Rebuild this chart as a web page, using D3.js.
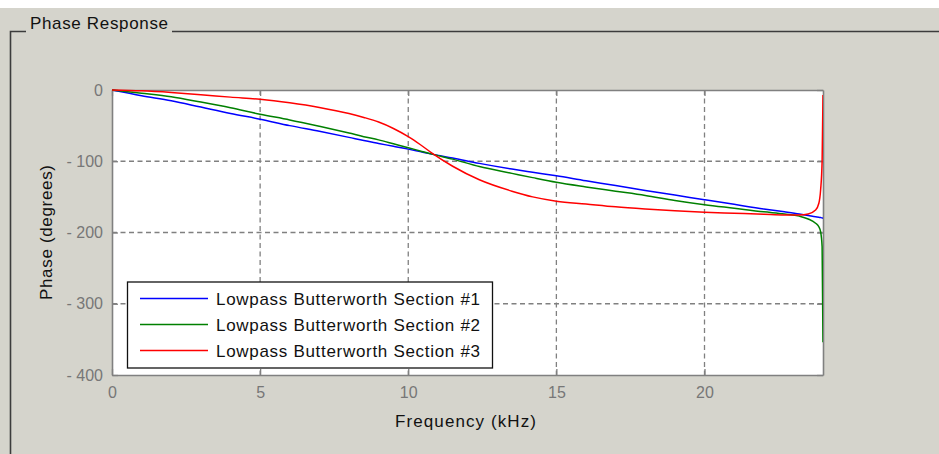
<!DOCTYPE html>
<html>
<head>
<meta charset="utf-8">
<script src="https://cdn.jsdelivr.net/npm/d3@7/dist/d3.min.js"></script>
<style>
html,body{margin:0;padding:0;background:#d5d4cc;}
svg{display:block;font-family:"Liberation Sans",Arial,Helvetica,sans-serif;}
</style>
</head>
<body>
<svg id="chart" width="939" height="454"></svg>
<script>
// ---- data ----
const freqKHz = [0, 1, 2, 3, 4, 5, 6, 7, 8, 8.5, 9, 9.5, 10, 10.4, 10.8, 11.5, 12.4, 13.5, 14.2, 15, 16, 17, 18, 19, 20, 21, 22, 22.7, 23.2, 23.5, 23.75, 23.86, 23.92, 23.97, 24];
const section1 = [0, -8, -15, -24, -33, -41, -50, -58, -66.5, -71, -75, -79, -83, -86.5, -90, -95.5, -103, -111, -115.5, -120.5, -127.5, -134, -141, -147.5, -154, -160.5, -167, -171, -174, -176, -178, -178.5, -179, -179.5, -180];
const section2 = [0, -4.5, -9.5, -17, -25, -34, -42, -51, -60.5, -65.5, -70, -75.5, -81, -85.5, -90, -97, -107.5, -117, -123, -129.5, -136, -142, -148, -155, -161, -166, -171, -174, -177, -181, -187, -192, -199, -220, -354];
const section3 = [0, -1.2, -3.5, -6.5, -10, -13, -18, -24.5, -33, -38.5, -45, -54, -65.5, -76.5, -88.5, -107, -126, -142, -150, -156, -160, -164, -167, -169.5, -171.5, -173, -174.5, -175.5, -175.5, -174, -168.5, -159, -140, -100, -7];
const seriesNames = ["Lowpass Butterworth Section #1", "Lowpass Butterworth Section #2", "Lowpass Butterworth Section #3"];
const seriesColors = ["#0000ff", "#008000", "#ff0000"];
const xTicks = [0, 5, 10, 15, 20];
const yTicks = [0, -100, -200, -300, -400];
const panelTitle = "Phase Response";
const xLabel = "Frequency (kHz)";
const yLabel = "Phase (degrees)";

const svg = d3.select("#chart");
const W = 939, H = 454;

// background: white strip on top, grey panel
svg.append("rect").attr("x",0).attr("y",0).attr("width",W).attr("height",8).attr("fill","#ffffff");
svg.append("rect").attr("x",0).attr("y",8).attr("width",W).attr("height",H-8).attr("fill","#d5d4cc");

// panel frame
const frame = svg.append("g").attr("stroke","#3c3c3c").attr("stroke-width",1.6).attr("fill","none");
frame.append("path").attr("d",`M10.5,${H} L10.5,31.5 L26,31.5`);
frame.append("path").attr("d",`M172,31.5 L${W},31.5`);
svg.append("text").attr("x",30).attr("y",29).attr("font-size",17).attr("fill","#111")
  .attr("textLength",138).attr("lengthAdjust","spacing")
  .text(panelTitle);

// plot geometry
const L = 112, R = 823, T = 90, B = 375;
const x = d3.scaleLinear().domain([0,24]).range([L,R]);
const y = d3.scaleLinear().domain([-400,0]).range([B,T]);

svg.append("rect").attr("x",L).attr("y",T).attr("width",R-L).attr("height",B-T).attr("fill","#ffffff");

// grid
const grid = svg.append("g").attr("stroke","#808080").attr("stroke-width",1.3).attr("stroke-dasharray","5,3.5");
grid.selectAll("line.gx").data(xTicks.filter(d=>d>0)).join("line")
  .attr("x1",d=>x(d)).attr("x2",d=>x(d)).attr("y1",T).attr("y2",B);
grid.selectAll("line.gy").data(yTicks.filter(d=>d>-400 && d<0)).join("line")
  .attr("x1",L).attr("x2",R).attr("y1",d=>y(d)).attr("y2",d=>y(d));

// axes
const axisColor = "#808080";
const xAxis = svg.append("g").attr("transform",`translate(0,${B})`)
  .call(d3.axisBottom(x).tickValues(xTicks).tickSizeInner(-6).tickSizeOuter(0).tickPadding(12).tickFormat(d3.format("d")));
const yAxis = svg.append("g").attr("transform",`translate(${L},0)`)
  .call(d3.axisLeft(y).tickValues(yTicks).tickSizeInner(-6).tickSizeOuter(0).tickPadding(9).tickFormat(d=> d<0 ? "- " + Math.abs(d) : d));
const xAxisTop = svg.append("g").attr("transform",`translate(0,${T})`)
  .call(d3.axisTop(x).tickValues(xTicks).tickSizeInner(-6).tickSizeOuter(0).tickFormat(""));
const yAxisRight = svg.append("g").attr("transform",`translate(${R},0)`)
  .call(d3.axisRight(y).tickValues(yTicks).tickSizeInner(-6).tickSizeOuter(0).tickFormat(""));
[xAxis,yAxis,xAxisTop,yAxisRight].forEach(g=>{
  g.select(".domain").attr("stroke",axisColor).attr("stroke-width",1.6);
  g.selectAll(".tick line").attr("stroke",axisColor).attr("stroke-width",1.3);
  g.selectAll(".tick text").attr("fill","#777777").attr("font-size",16)
    .attr("font-family","Liberation Sans, Arial, sans-serif");
});

// curves
const seriesData = [section1, section2, section3];
const line = d3.line().x((d,i)=>x(freqKHz[i])).y(d=>y(d)).curve(d3.curveMonotoneX);
svg.append("defs").append("clipPath").attr("id","clip")
  .append("rect").attr("x",L).attr("y",T-2).attr("width",R-L).attr("height",B-T+2);
const curves = svg.append("g").attr("clip-path","url(#clip)");
seriesData.forEach((s,k)=>{
  curves.append("path").datum(s).attr("d",line).attr("fill","none")
    .attr("stroke",seriesColors[k]).attr("stroke-width",1.5);
});

// legend
const lg = svg.append("g");
lg.append("rect").attr("x",127.5).attr("y",282).attr("width",365).attr("height",86)
  .attr("fill","#ffffff").attr("stroke","#111").attr("stroke-width",1.3);
const legY = [298.5, 324.5, 350.5];
seriesNames.forEach((n,k)=>{
  lg.append("line").attr("x1",140).attr("x2",208).attr("y1",legY[k]).attr("y2",legY[k])
    .attr("stroke",seriesColors[k]).attr("stroke-width",1.5);
  lg.append("text").attr("x",216).attr("y",legY[k]+6.5).attr("font-size",17).attr("fill","#111")
    .attr("textLength",264).attr("lengthAdjust","spacing")
    .text(n);
});

// axis labels
svg.append("text").attr("x",(L+R)/2 - 2).attr("y",427).attr("text-anchor","middle")
  .attr("font-size",17).attr("fill","#111")
  .attr("textLength",141).attr("lengthAdjust","spacing").text(xLabel);
svg.append("text").attr("transform",`translate(52,${(T+B)/2}) rotate(-90)`).attr("text-anchor","middle")
  .attr("font-size",17).attr("fill","#111")
  .attr("textLength",135).attr("lengthAdjust","spacing").text(yLabel);
</script>
</body>
</html>
